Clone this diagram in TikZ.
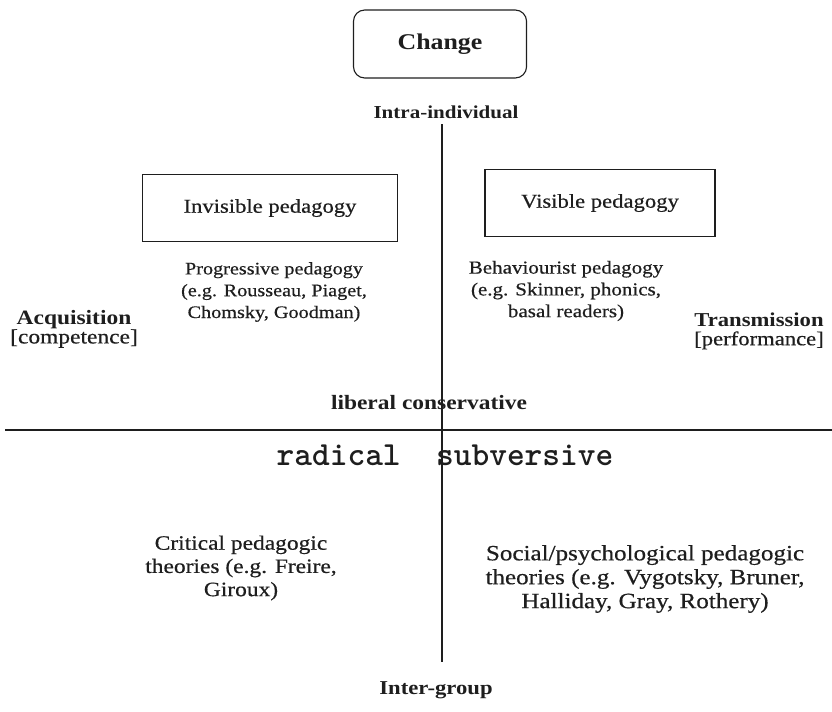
\documentclass[tikz,border=0pt]{standalone}
\usepackage{fontspec}
\setmainfont{Liberation Serif}[FakeStretch=1.15,UprightFeatures={FakeBold=0.5}]
\usetikzlibrary{positioning}
\definecolor{ink}{HTML}{1E1E1E}

\begin{document}
\begin{tikzpicture}[x=0.025cm,y=-0.025cm,
  box/.style={draw=ink,line width=0.8pt,inner sep=0pt,text=ink,minimum height=1.675cm},
  txt/.style={text=ink,align=center,inner sep=0pt},
  axis/.style={draw=ink,line width=0.9pt}]
\useasboundingbox (0,0) rectangle (832,711);
% the two axes
\coordinate (vtop) at (442,124);
\coordinate (vbot) at (442,662);
\coordinate (hleft) at (5,430);
\coordinate (hright) at (832,430);
\draw[axis] (vtop) -- (vbot);
\draw[axis] (hleft) -- (hright);
\node[box,rounded corners=8pt,minimum width=4.325cm,minimum height=1.7cm,font=\fontsize{16}{18}\selectfont\bfseries] (change) at (440,44) {Change};
\node[txt,font=\fontsize{13}{15}\selectfont\bfseries] (intra) at (446,112) {Intra-individual};
\node[box,minimum width=6.375cm,font=\fontsize{14}{16}\selectfont] (invisible) at (270,208) {Invisible pedagogy};
\node[box,minimum width=5.75cm,font=\fontsize{14}{16}\selectfont] (visible) at (600,203) {Visible pedagogy};
\node[txt,font=\fontsize{12.5}{15.5}\selectfont] (progressive) at (274,292) {Progressive pedagogy\\(e.g. Rousseau, Piaget,\\Chomsky, Goodman)};
\node[txt,font=\fontsize{13}{15.5}\selectfont] (behaviourist) at (566,291) {Behaviourist pedagogy\\(e.g. Skinner, phonics,\\basal readers)};
\node[txt,font=\fontsize{14.5}{13.5}\selectfont] (acquisition) at (74,329) {\textbf{Acquisition}\\{[competence]}};
\node[txt,font=\fontsize{14}{13.5}\selectfont] (transmission) at (759,331) {\textbf{Transmission}\\{[performance]}};
\node[txt,font=\fontsize{14.5}{16}\selectfont\bfseries] (liberal) at (429,403) {liberal conservative};
\node[txt,font=\ttfamily\bfseries\fontsize{24}{26}\selectfont] (radical) at (445,455) {radical\ \ subversive};
\node[txt,font=\fontsize{14.5}{16.5}\selectfont] (critical) at (241,568) {Critical pedagogic\\theories (e.g. Freire,\\Giroux)};
\node[txt,font=\fontsize{15.5}{17}\selectfont] (social) at (645,579) {Social/psychological pedagogic\\theories (e.g. Vygotsky, Bruner,\\Halliday, Gray, Rothery)};
\node[txt,font=\fontsize{14}{16}\selectfont\bfseries] (inter) at (436,690) {Inter-group};
\end{tikzpicture}
\end{document}
